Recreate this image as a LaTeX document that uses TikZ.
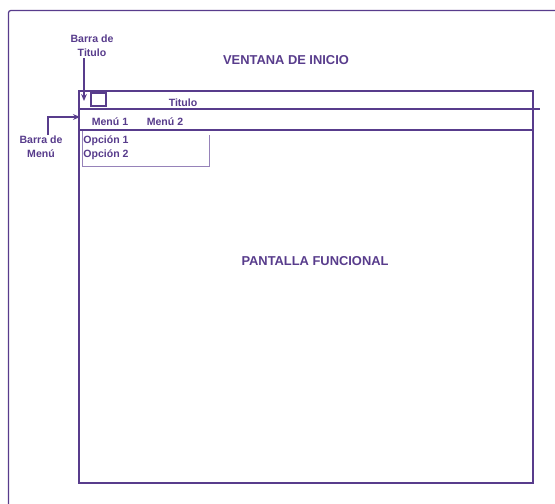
\documentclass[tikz,border=0pt]{standalone}
\usepackage{fontspec}
\setmainfont{Liberation Sans}
\usepackage{xcolor}
\usetikzlibrary{arrows.meta,positioning,calc}
\definecolor{ink}{RGB}{88,60,140}
\definecolor{inklite}{RGB}{150,130,185}

\begin{document}
\begin{tikzpicture}[x=0.03cm,y=-0.03cm,>={Stealth[length=6pt,width=5pt]},
  every node/.style={text=ink,font=\bfseries},
  big/.style={font=\fontsize{11}{13}\selectfont\bfseries},
  small/.style={font=\fontsize{9}{12}\selectfont\bfseries,inner sep=1pt},
  side/.style={small,align=center}]
 \useasboundingbox (0,0) rectangle (555,504);
 \fill[white] (0,0) rectangle (555,504);
 % outer frame, cut by the page edge
 \draw[ink,line width=1.1pt,rounded corners=2pt] (8.5,504)--(8.5,10.5)--(555,10.5);
 % start window
 \draw[ink,line width=1.5pt] (79,91) rectangle (533,483);
 \draw[ink,line width=1.2pt] (79,109)--(540,109);
 \draw[ink,line width=1.5pt] (79,130)--(533,130);
 \draw[ink,line width=1.1pt] (91,93) rectangle (106,106);
 % drop-down list
 \draw[inklite,line width=0.7pt] (82,131)--(82,166)--(209,166)--(209,135);
 \node[big] (ventana) at (286,60) {VENTANA DE INICIO};
 \node[big] (pantalla) at (315,261) {PANTALLA FUNCIONAL};
 \node[small] (titulo) at (183,103) {Titulo};
 \node[small] (menu1) at (110,122) {Menú 1};
 \node[small] (menu2) at (165,122) {Menú 2};
 \node[small,anchor=west] (opc1) at (82,141) {Opción 1};
 \node[small,anchor=west] (opc2) at (82,155) {Opción 2};
 \node[side] (titlbl) at (92,46) {Barra de\\Titulo};
 \node[side] (menulbl) at (41,147) {Barra de\\Menú};
 \coordinate (titarr) at (84,101);
 \coordinate (menuknee) at (48,117);
 \coordinate (menuarr) at (80,117);
 \draw[ink,line width=1.1pt,->] (titlbl.south -| titarr)--(titarr);
 \draw[ink,line width=1.1pt,->] (menulbl.north -| menuknee)--(menuknee)--(menuarr);
\end{tikzpicture}
\end{document}
